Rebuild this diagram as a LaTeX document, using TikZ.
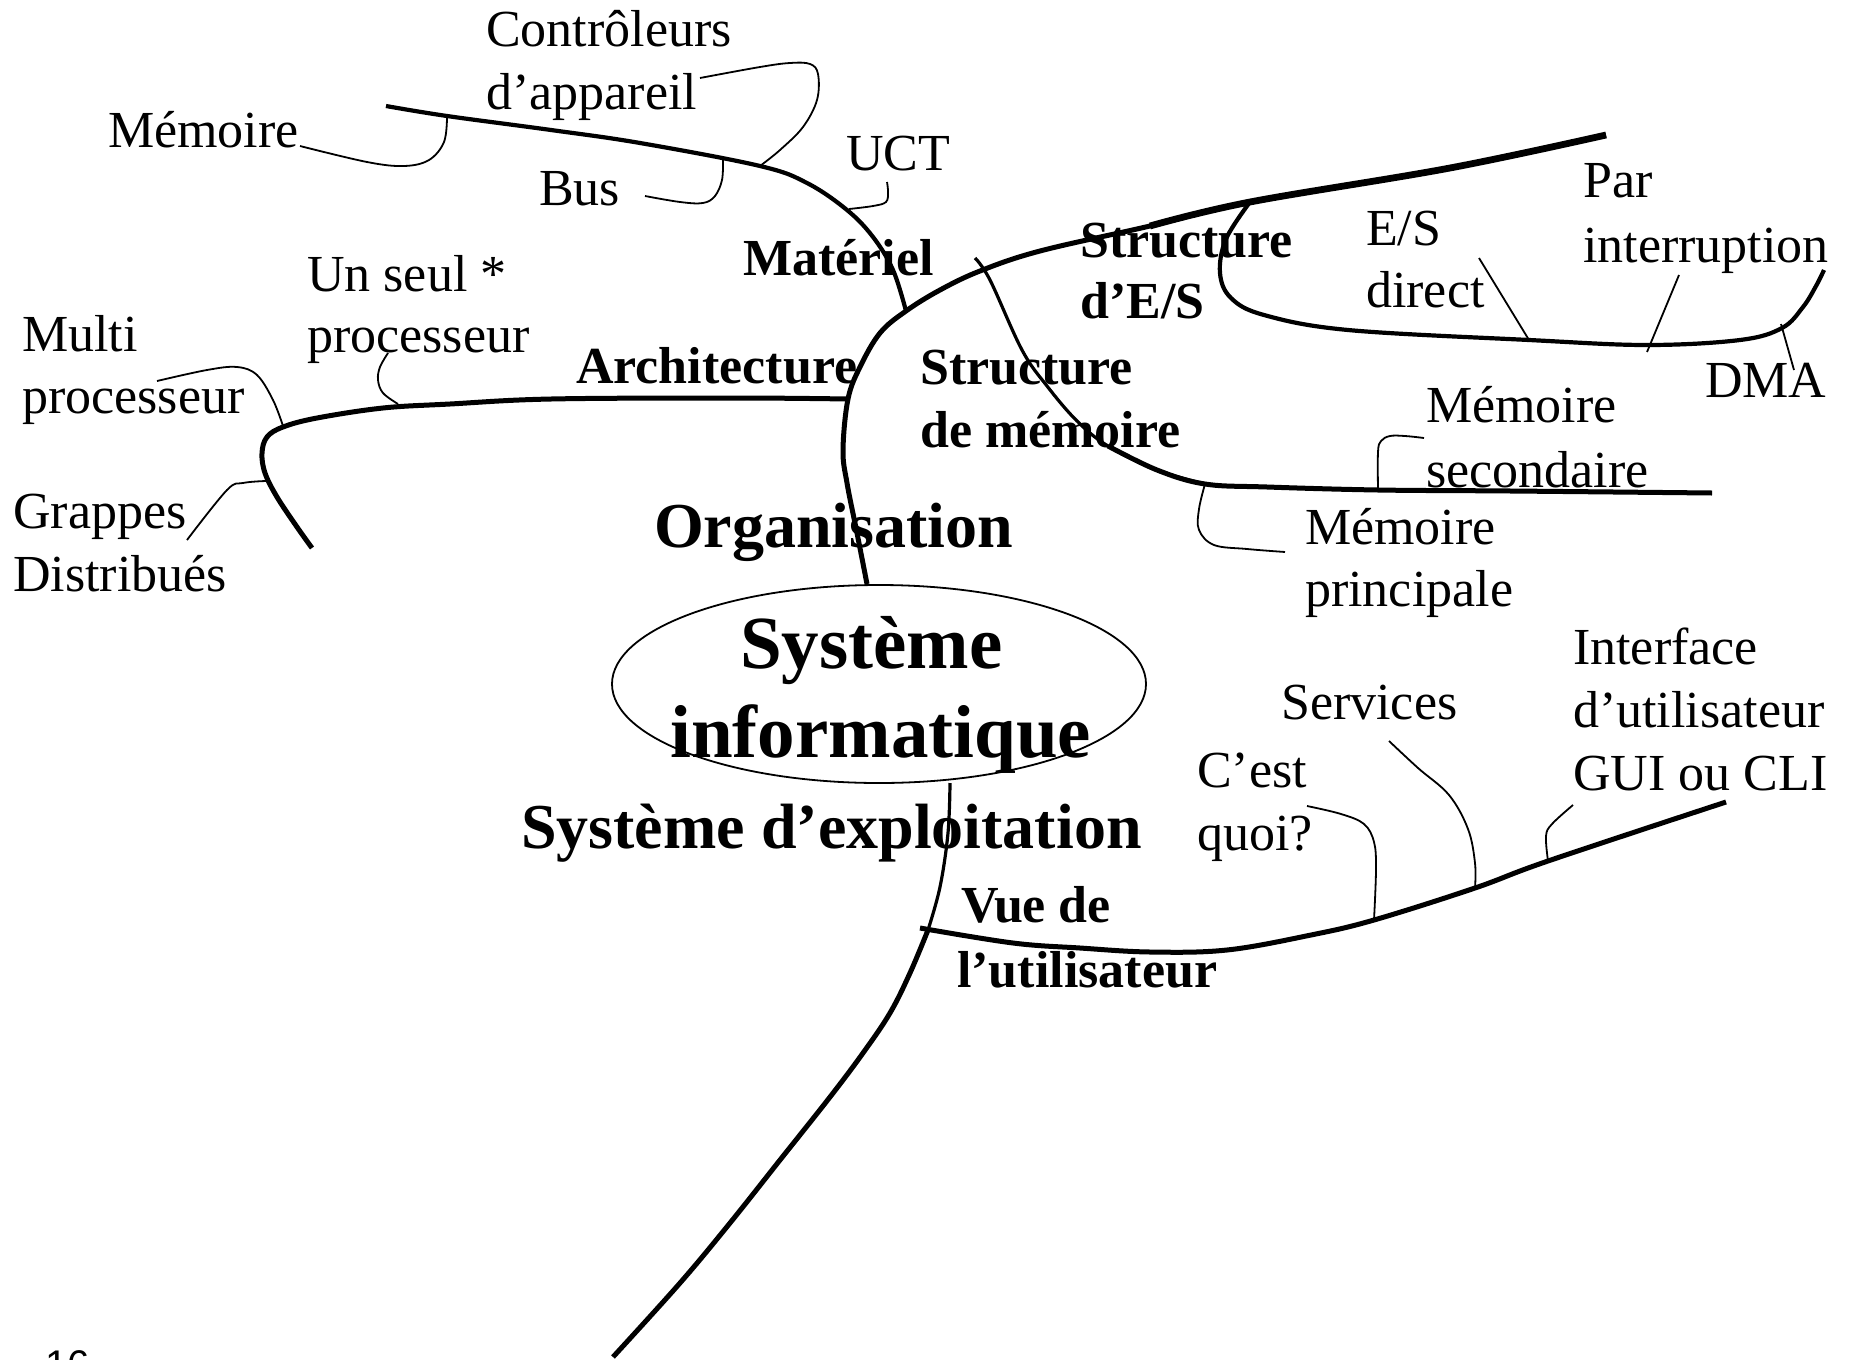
\documentclass[tikz,border=0pt]{standalone}
\usepackage{fontspec}
\setmainfont{Liberation Serif}
\newfontfamily\pagenofont{Liberation Sans}
\usetikzlibrary{shapes.geometric}
\begin{document}
\begin{tikzpicture}[x=1pt,y=-1pt,
  txt/.style={inner sep=0pt, anchor=base west, font=\fontsize{52}{63}\selectfont},
  btxt/.style={inner sep=0pt, anchor=base west, font=\fontsize{52}{63}\selectfont\bfseries},
  mtxt/.style={inner sep=0pt, anchor=base west, font=\fontsize{64}{76}\selectfont\bfseries},
  htxt/.style={inner sep=0pt, anchor=base west, font=\fontsize{75}{89}\selectfont\bfseries},
  bone/.style={line width=5pt, line join=round},
  heavybone/.style={line width=6.8pt, line join=round},
  rib/.style={line width=4.2pt, line join=round},
  twig/.style={line width=3.2pt, line join=round},
  tick/.style={line width=1.8pt, line join=round},
  sm/.style={smooth, tension=0.6},
]
\useasboundingbox (0,0) rectangle (1858,1360);

% central ellipse
\node[draw, ellipse, line width=1.8pt, minimum width=534pt, minimum height=198pt,
      inner sep=0pt] (core) at (879,684) {};
\node[htxt] (coreA) at (740,668) {Système};
\node[htxt] (coreB) at (670,757) {informatique};

% ---------- junctions and ends ----------
\coordinate (orgA)  at (867,584);
\coordinate (archJ) at (848,399);
\coordinate (matJ)  at (906,311);
\coordinate (memJ)  at (975,258);
\coordinate (esJ)   at (1250,202);
\coordinate (orgEnd) at (1606,135);
\coordinate (matEnd) at (386,106);
\coordinate (archEnd) at (312,548);
\coordinate (memK)  at (1108,446);
\coordinate (memEnd) at (1712,493);
\coordinate (esEnd) at (1824,270);
\coordinate (spTop) at (950,783);
\coordinate (userJ) at (928,930);
\coordinate (spEnd) at (613,1357);
\coordinate (userEnd) at (1726,802);

% ---------- Organisation trunk ----------
\draw[bone] plot[sm] coordinates {(orgA) (857,533) (847,483) (843,450) (archJ)
  (860,367) (880,333) (matJ) (940,290) (980,271) (1040,251) (1150,226) (esJ)
  (1450,168) (orgEnd)};
\draw[heavybone] plot[sm] coordinates {(1150,226) (esJ) (1450,168) (orgEnd)};

% Matériel
\draw[rib] plot[sm] coordinates {(matJ) (893,270) (873,237) (847,210) (807,183)
  (760,166) (640,143) (551,130) (447,116) (matEnd)};
\coordinate (tMem) at (447,117);
\coordinate (tBus) at (723,160);
\coordinate (tCtl) at (760,166);
\coordinate (tUct) at (849,209);
\draw[tick] plot[sm] coordinates {(tMem) (444,142) (429,160) (404,166) (367,162) (300,146)};
\draw[tick] plot[sm] coordinates {(tBus) (722,180) (715,196) (703,203) (680,202) (645,196)};
\draw[tick] plot[sm] coordinates {(tCtl) (780,150) (803,127) (817,100) (818,74) (810,64)
  (790,63) (760,67) (700,78)};
\draw[tick] plot[sm] coordinates {(tUct) (873,206) (886,202) (888,192) (887,182)};

% Architecture
\draw[bone] plot[sm] coordinates {(archJ) (735,398) (551,399) (450,404) (383,408)
  (317,418) (283,427) (267,437) (262,453) (265,473) (277,497) (297,527) (archEnd)};
\coordinate (tOne) at (398,404);
\coordinate (tMulti) at (283,426);
\coordinate (tClu) at (266,481);
\draw[tick] plot[sm] coordinates {(tOne) (383,393) (378,380) (380,367) (388,353)};
\draw[tick] plot[sm] coordinates {(tMulti) (273,400) (257,375) (237,367) (207,370) (157,381)};
\draw[tick] plot[sm] coordinates {(tClu) (243,483) (227,490) (187,540)};

% Structure de mémoire
\draw[twig] plot[sm] coordinates {(memJ) (990,280) (1022,350) (1047,386) (1077,421) (memK)
  (1157,470) (1205,484)};
\draw[bone] plot[sm] coordinates {(memK) (1157,470) (1205,484) (1267,487) (1378,490)
  (1511,491) (memEnd)};
\coordinate (tSec) at (1378,490);
\coordinate (tPri) at (1205,484);
\draw[tick] plot[sm] coordinates {(tSec) (1378,452) (1381,441) (1390,436) (1405,436) (1424,438)};
\draw[tick] plot[sm] coordinates {(tPri) (1199,509) (1199,530) (1214,545) (1247,549) (1285,552)};

% Structure d'E/S
\draw[rib] plot[sm] coordinates {(esJ) (1226,239) (1220,273) (1231,298) (1264,315)
  (1348,330) (1529,340) (1647,345) (1740,340) (1782,328) (1803,307) (1816,286) (esEnd)};
\coordinate (tDir) at (1529,340);
\coordinate (tInt) at (1647,352);
\coordinate (tDma) at (1781,324);
\draw[tick] (tDir) -- (1479,258);
\draw[tick] (tInt) -- (1679,275);
\draw[tick] (tDma) -- (1794,370);

% ---------- Système d'exploitation spine ----------
\draw[twig] plot[sm] coordinates {(spTop) (948,833) (940,887) (userJ)};
\draw[bone] plot[sm] coordinates {(userJ) (910,973) (890,1013) (863,1053) (830,1097)
  (780,1160) (730,1223) (680,1283) (spEnd)};

% Vue de l'utilisateur
\draw[bone] plot[sm] coordinates {(920,928) (1013,943) (1080,948) (1150,952) (1227,950)
  (1311,935) (1374,920) (1475,888) (1548,861) (userEnd)};
\coordinate (tWhat) at (1374,920);
\coordinate (tServ) at (1475,888);
\coordinate (tUi) at (1548,861);
\draw[tick] plot[sm] coordinates {(tWhat) (1376,869) (1374,842) (1364,824) (1341,814) (1307,806)};
\draw[tick] plot[sm] coordinates {(tServ) (1475,863) (1468,829) (1449,795) (1418,768) (1389,741)};
\draw[tick] plot[sm] coordinates {(tUi) (1546,836) (1552,824) (1573,805)};

% ---------- labels ----------
\node[txt] (ctl1) at (486,46) {Contrôleurs};
\node[txt] (ctl2) at (486,109) {d’appareil};
\node[txt] (mem) at (108,147) {Mémoire};
\node[txt] (bus) at (539,205) {Bus};
\node[txt] (uct) at (846,170) {UCT};
\node[btxt] (mat) at (743,275) {Matériel};
\node[txt] (one1) at (307,291) {Un seul *};
\node[txt] (one2) at (307,352) {processeur};
\node[txt] (multi1) at (22,351) {Multi};
\node[txt] (multi2) at (22,413) {processeur};
\node[btxt] (arch) at (576,383) {Architecture};
\node[txt] (clu1) at (13,528) {Grappes};
\node[txt] (clu2) at (13,591) {Distribués};
\node[mtxt] (org) at (654,547) {Organisation};
\node[btxt] (es1) at (1080,257) {Structure};
\node[btxt] (es2) at (1080,318) {d’E/S};
\node[txt] (dir1) at (1366,245) {E/S};
\node[txt] (dir2) at (1366,307) {direct};
\node[txt] (irq1) at (1583,197) {Par};
\node[txt] (irq2) at (1583,262) {interruption};
\node[txt] (dma) at (1705,397) {DMA};
\node[btxt] (sm1) at (920,384) {Structure};
\node[btxt] (sm2) at (920,447) {de mémoire};
\node[txt] (sec1) at (1426,422) {Mémoire};
\node[txt] (sec2) at (1426,487) {secondaire};
\node[txt] (pri1) at (1305,544) {Mémoire};
\node[txt] (pri2) at (1305,606) {principale};
\node[mtxt] (os) at (521,848) {Système d’exploitation};
\node[btxt] (vue1) at (961,922) {Vue de};
\node[btxt] (vue2) at (957,987) {l’utilisateur};
\node[txt] (what1) at (1197,787) {C’est};
\node[txt] (what2) at (1197,850) {quoi?};
\node[txt] (serv) at (1281,719) {Services};
\node[txt] (ui1) at (1573,664) {Interface};
\node[txt] (ui2) at (1573,727) {d’utilisateur};
\node[txt] (ui3) at (1573,790) {GUI ou CLI};

% page number, mostly below the page edge
\node[inner sep=0pt, anchor=north west, font=\pagenofont\fontsize{40}{40}\selectfont]
  (pageno) at (45,1350) {16};
\end{tikzpicture}
\end{document}
